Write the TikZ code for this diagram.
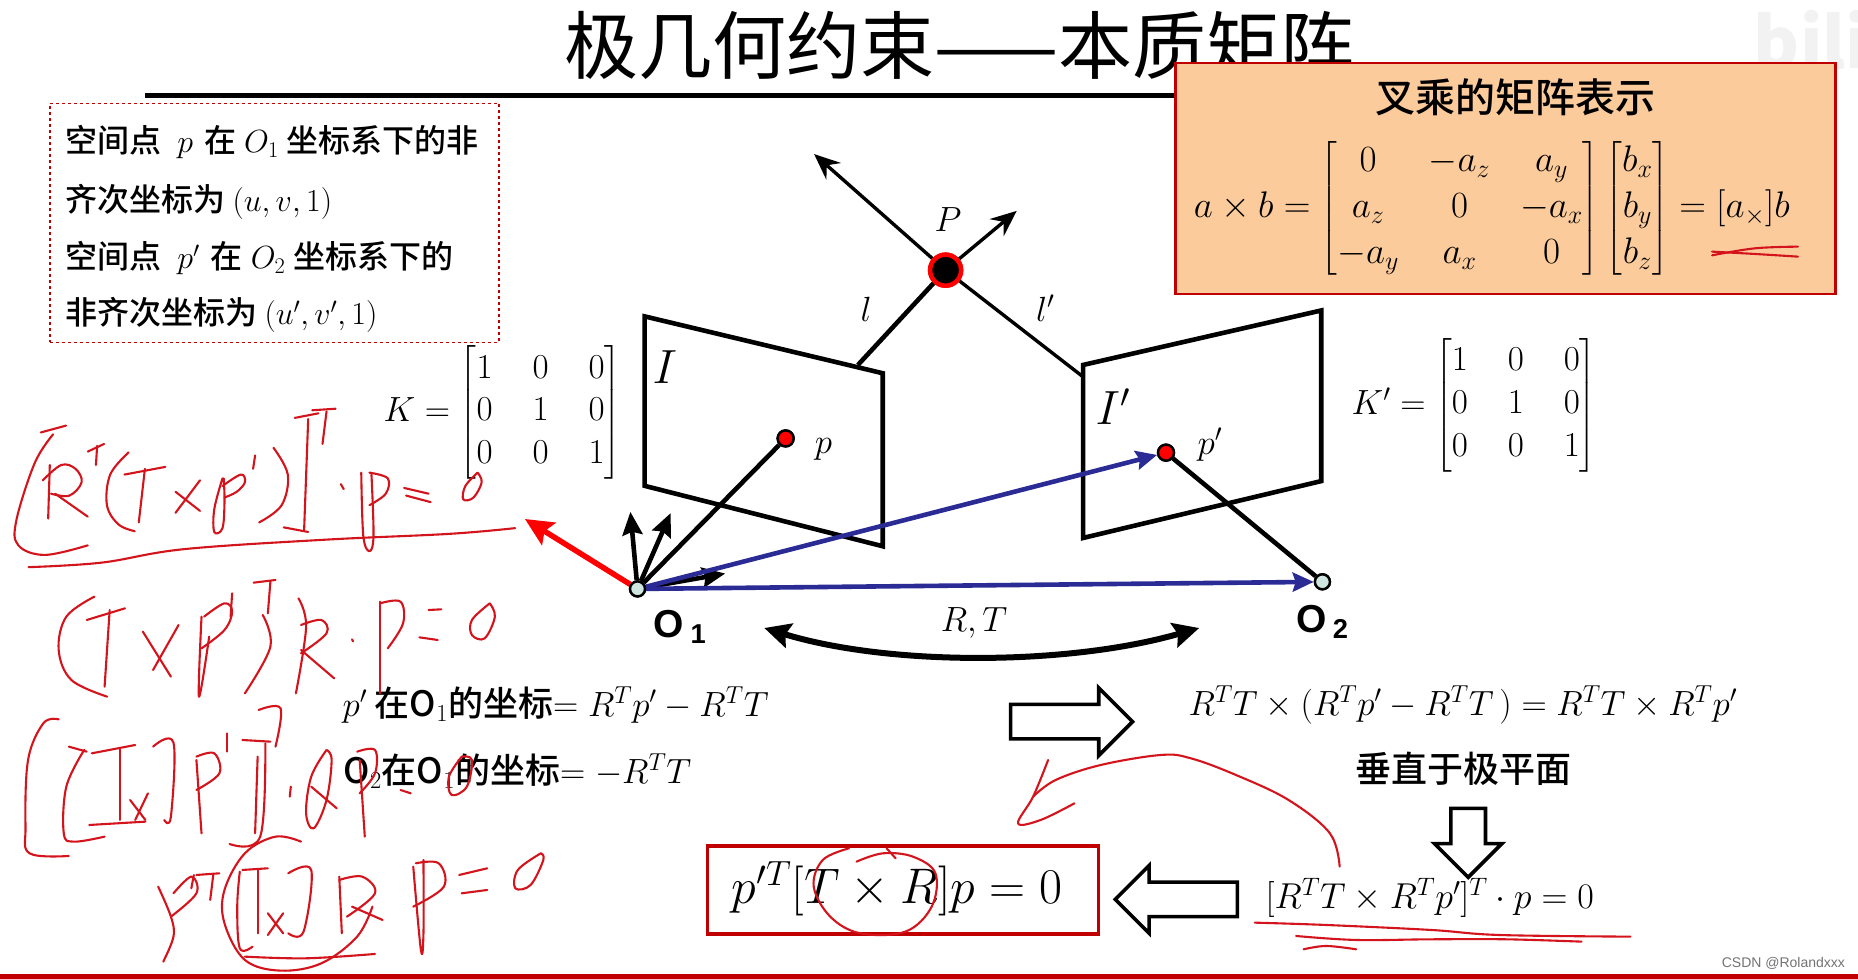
\documentclass[tikz,border=0pt]{standalone}
\usepackage{fix-cm}
\usepackage{amsmath}
\usepackage{fontspec}
\setmainfont{Noto Sans CJK SC}
\newfontfamily\cjkmedium{Noto Sans CJK SC Medium}
\newfontfamily\labelfont{Liberation Sans}
\usepackage{tikz}
\usetikzlibrary{arrows.meta,shapes.arrows}
\definecolor{PenRed}{HTML}{D4141C}
\definecolor{BoxRed}{HTML}{C00000}
\definecolor{BoxOrange}{HTML}{FBCB9B}
\definecolor{RayBlue}{HTML}{2B2B96}
\definecolor{CamTeal}{HTML}{CFE6E0}
\newcommand{\eqsize}{\fontsize{35}{36}\selectfont\cjkmedium}
\newcommand{\penstroke}[1]{\draw[hand] plot[smooth,tension=.6] coordinates {#1};}
\tikzset{
  plane/.style={draw,line width=4.6pt,line join=miter},
  ray/.style={draw,line width=4.6pt},
  thinray/.style={ray,line width=3.4pt,-{Stealth[length=26pt,width=22pt,inset=9pt]}},
  axis/.style={ray,-{Stealth[length=23pt,width=20pt,inset=3pt]}},
  bluearr/.style={draw=RayBlue,line width=4.6pt,-{Stealth[length=21pt,width=19pt,inset=3pt]}},
  redarr/.style={draw=red,line width=5.5pt,-{Stealth[length=28pt,width=26pt,inset=5pt]}},
  cam/.style={circle,draw,line width=2.4pt,fill=CamTeal,minimum size=15pt,inner sep=0pt},
  imgpt/.style={circle,draw,line width=2.4pt,fill=red,minimum size=16pt,inner sep=0pt},
  eqn/.style={font=\eqsize,inner sep=0pt},
  cjktext/.style={font=\fontsize{32}{36}\selectfont\cjkmedium,inner sep=0pt},
  camlabel/.style={font=\fontsize{39}{40}\selectfont\labelfont\bfseries,inner sep=0pt},
  hollow/.style={draw,line width=3.6pt,fill=white,single arrow,minimum width=64pt,
    minimum height=122pt,single arrow head extend=16.5pt,inner ysep=15.5pt,inner xsep=0pt},
  hand/.style={draw=PenRed,line width=2.1pt,line cap=round,line join=round},
  notesA/.style={x=.4082pt,y=-.3827pt},
  notesC/.style={shift={(1150pt,0pt)},x=.4515pt,y=-.3333pt},
  notesD/.style={shift={(0pt,-560pt)},x=.5102pt,y=-.3333pt},
  notesE/.style={shift={(680pt,-660pt)},x=.7513pt,y=-.3333pt}
}
\begin{document}
\begin{tikzpicture}[x=1.18495pt,y=-1.18495pt]
    \useasboundingbox (0,0) rectangle (1568,826);
    \fill[white] (0,0) rectangle (1568,826);
    \fill[BoxRed] (0,822) rectangle (1568,826);

    \node[font=\fontsize{74}{78}\selectfont,inner sep=0pt] (title) at (810,38) {极几何约束——本质矩阵};
    \coordinate (ruleL) at (122,81);
    \coordinate (ruleR) at (1000,81);
    \draw[line width=5pt] (ruleL) -- (ruleR);
    \node[font=\bfseries\fontsize{70}{70}\selectfont,text=black!5,anchor=west,inner sep=0pt] (bili) at (1480,34) {bili};

    \node[draw=BoxRed,fill=BoxOrange,line width=2.5pt,minimum width=660pt,minimum height=231pt,inner sep=0pt] (crossbox) at (1270.5,150.5) {};
    \node[cjktext,font=\fontsize{40}{40}\selectfont\cjkmedium] (crosstitle) at (1279,82) {叉乘的矩阵表示};
    \node[eqn,font=\fontsize{37}{36}\selectfont] (crosseq) at (1259,176) {\setlength{\arraycolsep}{15pt}\renewcommand{\arraystretch}{1.28}$a\times b=\begin{bmatrix}0&-a_z&a_y\\a_z&0&-a_x\\-a_y&a_x&0\end{bmatrix}\setlength{\arraycolsep}{4pt}\begin{bmatrix}b_x\\b_y\\b_z\end{bmatrix}=[a_\times]b$};

    \node[draw=BoxRed,dashed,line width=1.5pt,minimum width=449pt,minimum height=239pt,inner sep=0pt] (notebox) at (231.5,188) {};
    \node[cjktext,anchor=west] (noteA) at (55,120) {空间点\hspace{16pt}$p$\hspace{11pt}在\hspace{8pt}$O_1$\hspace{8pt}坐标系下的非};
    \node[cjktext,anchor=west] (noteB) at (55,170) {齐次坐标为 $(u,v,1)$};
    \node[cjktext,anchor=west] (noteC) at (55,218) {空间点\hspace{16pt}$p'$\hspace{11pt}在\hspace{8pt}$O_2$\hspace{8pt}坐标系下的};
    \node[cjktext,anchor=west] (noteD) at (55,266) {非齐次坐标为 $(u',v',1)$};

    \node[eqn] (Kmat) at (424,348) {\setlength{\arraycolsep}{20pt}\renewcommand{\arraystretch}{1.19}$K=\begin{bmatrix}1&0&0\\0&1&0\\0&0&1\end{bmatrix}$};
    \node[eqn] (Kpmat) at (1244,342) {\setlength{\arraycolsep}{20pt}\renewcommand{\arraystretch}{1.19}$K'=\begin{bmatrix}1&0&0\\0&1&0\\0&0&1\end{bmatrix}$};

    \node[cam] (O1) at (538,497) {};
    \node[cam] (O2) at (1116,491) {};
    \node[imgpt] (p) at (663,370) {};
    \node[imgpt] (pp) at (984,382) {};
    \node[circle,draw=red,line width=4.5pt,fill=black,minimum size=31pt,inner sep=0pt] (P) at (798,228) {};
    \coordinate (lfoot) at (724,308);
    \coordinate (lpfoot) at (914,318);
    \coordinate (ltip) at (858,178);
    \coordinate (lptip) at (687,130);
    \coordinate (axisA) at (532,432);
    \coordinate (axisB) at (566,433);
    \coordinate (axisC) at (612,484);
    \coordinate (redtip) at (443,438);
    \coordinate (rtL) at (645,530);
    \coordinate (rtR) at (1012,530);

    \draw[plane] (544,267) -- (745,315) -- (745,461) -- (544,410) -- cycle;
    \draw[plane] (914,308) -- (1115,262) -- (1115,406) -- (914,454) -- cycle;
    \draw[ray] (lfoot) -- (P);
    \draw[ray,line width=3.4pt] (lpfoot) -- (P);
    \draw[thinray] (P) -- (ltip);
    \draw[thinray] (P) -- (lptip);
    \draw[axis] (O1) -- (axisA);
    \draw[axis] (O1) -- (axisB);
    \draw[axis] (O1) -- (axisC);
    \draw[ray] (O1) -- (p);
    \draw[ray] (O2) -- (pp);
    \draw[redarr] (O1) -- (redtip);
    \draw[bluearr] (O1) -- (pp);
    \draw[bluearr] (O1) -- (O2);
    \draw[line width=6pt,{Stealth[length=26pt,width=25pt,inset=4pt]}-{Stealth[length=26pt,width=25pt,inset=4pt]}] (rtL) .. controls (750,562) and (900,562) .. (rtR);
    \node[cam] at (O1) {};
    \node[cam] at (O2) {};
    \node[imgpt] at (p) {};
    \node[imgpt] at (pp) {};
    \node[circle,draw=red,line width=4.5pt,fill=black,minimum size=31pt,inner sep=0pt] at (P) {};

    \node[eqn] (lablP) at (800,185) {$P$};
    \node[eqn] (labll) at (731,261) {$l$};
    \node[eqn] (lablpr) at (882,260) {$l'$};
    \node[eqn,font=\fontsize{48}{48}\selectfont] (lablI) at (561,310) {$I$};
    \node[eqn,font=\fontsize{48}{48}\selectfont] (lablIp) at (939,343) {$I'$};
    \node[eqn] (lablp) at (695,379) {$p$};
    \node[eqn] (lablpp) at (1021,375) {$p'$};
    \node[camlabel] (lablO1) at (574,529) {O\,$_{\textbf{1}}$};
    \node[camlabel] (lablO2) at (1116,525) {O\,$_{\textbf{2}}$};
    \node[eqn] (lablRT) at (822,526) {$R,T$};

    \node[eqn,anchor=west] (eqA) at (289,595) {$p'$ 在O$_1$的坐标$=R^Tp'-R^TT$};
    \node[eqn,anchor=west] (eqB) at (290,651) {O$_2$在O$_1$的坐标$=-R^TT$};
    \node[eqn,anchor=west] (eqC) at (1003,595) {$R^TT\times(R^Tp'-R^TT\,)=R^TT\times R^Tp'$};
    \node[cjktext,font=\fontsize{36}{36}\selectfont\cjkmedium] (perp) at (1235,649) {垂直于极平面};
    \node[eqn,font=\fontsize{36}{36}\selectfont,anchor=west] (eqD) at (1068,758) {$[R^TT\times R^Tp']^T\cdot p=0$};
    \node[draw=BoxRed,line width=3.6pt,minimum width=391pt,minimum height=88pt,inner sep=0pt] (resultbox) at (762,751) {};
    \node[eqn,font=\fontsize{50}{54}\selectfont] (result) at (757,750) {$p'^T[T\times R]p=0$};

    \node[hollow] (arrR) at (897,609) {};
    \node[hollow,minimum height=69pt] (arrD) at (1239,704) [rotate=-90] {};
    \node[hollow] (arrL) at (1000,759) [rotate=180] {};

    \node[font=\fontsize{14}{14}\selectfont\labelfont,text=black!55,inner sep=0pt] (mark) at (1505,813) {CSDN @Rolandxxx};

    \begin{scope}[notesA]
      \penstroke{(162,1112) (100,1130)}
      \penstroke{(130,1135) (85,1210) (40,1360) (45,1425) (110,1450) (215,1425)}
      \penstroke{(122,1215) (118,1355)}
      \penstroke{(105,1255) (150,1215) (185,1225) (200,1260) (170,1295) (125,1290)}
      \penstroke{(135,1290) (215,1350)}
      \penstroke{(215,1180) (255,1160)}
      \penstroke{(238,1165) (235,1215)}
      \penstroke{(315,1182) (270,1240) (262,1320) (290,1370) (330,1388)}
      \penstroke{(305,1240) (405,1220)}
      \penstroke{(355,1225) (340,1365)}
      \penstroke{(490,1255) (430,1340)}
      \penstroke{(430,1285) (490,1335)}
      \penstroke{(545,1250) (525,1330) (525,1390) (545,1380) (550,1310) (548,1250)}
      \penstroke{(545,1270) (590,1240) (600,1260) (580,1285) (550,1300)}
      \penstroke{(625,1190) (620,1225)}
      \penstroke{(670,1170) (705,1240) (690,1320) (635,1365)}
      \penstroke{(722,1092) (780,1080)}
      \penstroke{(755,1095) (745,1385)}
      \penstroke{(695,1378) (755,1390)}
      \penstroke{(765,1072) (822,1068)}
      \penstroke{(800,1075) (790,1160)}
      \penstroke{(835,1265) (842,1278)}
      \penstroke{(885,1235) (890,1400) (905,1440) (915,1400) (910,1240)}
      \penstroke{(905,1235) (950,1250) (945,1290) (905,1320)}
      \penstroke{(990,1275) (1050,1290)}
      \penstroke{(995,1295) (1055,1312)}
      \penstroke{(1170,1235) (1140,1270) (1135,1305) (1160,1300) (1180,1260) (1170,1235)}
      \penstroke{(70,1482) (250,1470) (450,1435) (800,1410) (1100,1395) (1262,1380)}
    \end{scope}

    \begin{scope}[notesC]
      \penstroke{(1245,766) (1340,745) (1435,740)}
      \penstroke{(1245,755) (1340,762) (1435,770)}
    \end{scope}

    \begin{scope}[notesD]
      \penstroke{(185,110) (130,170) (115,270) (140,360) (210,410)}
      \penstroke{(170,180) (245,145)}
      \penstroke{(215,150) (205,380)}
      \penstroke{(350,195) (300,330)}
      \penstroke{(280,215) (335,350)}
      \penstroke{(395,170) (390,410) (410,230)}
      \penstroke{(400,170) (440,130) (455,155) (440,210) (395,265)}
      \penstroke{(455,100) (452,170)}
      \penstroke{(585,115) (600,200) (580,400)}
      \penstroke{(515,165) (530,260) (480,400)}
      \penstroke{(497,68) (540,60)}
      \penstroke{(530,65) (525,160)}
      \penstroke{(590,195) (630,180) (640,220) (590,280)}
      \penstroke{(590,270) (655,355)}
      \penstroke{(690,238) (692,244)}
      \penstroke{(745,125) (745,400)}
      \penstroke{(745,130) (785,125) (790,190) (760,265)}
      \penstroke{(840,150) (865,148)}
      \penstroke{(822,232) (858,240)}
      \penstroke{(960,130) (925,180) (925,225) (950,235) (970,170) (960,130)}

      \penstroke{(115,478) (85,490) (55,600) (50,800) (58,880) (135,888)}
      \penstroke{(135,560) (170,575)}
      \penstroke{(165,570) (130,680) (125,820) (145,845) (205,830)}
      \penstroke{(180,580) (265,555)}
      \penstroke{(235,565) (235,780)}
      \penstroke{(175,795) (285,785)}
      \penstroke{(255,720) (285,780)}
      \penstroke{(290,700) (265,780)}
      \penstroke{(300,560) (340,548) (335,770) (322,780)}
      \penstroke{(385,600) (395,820)}
      \penstroke{(385,590) (420,580) (430,640) (385,690)}
      \penstroke{(445,520) (445,575)}
      \penstroke{(475,540) (530,545)}
      \penstroke{(520,550) (510,830) (450,852)}
      \penstroke{(505,590) (500,820)}
      \penstroke{(507,450) (550,445) (540,560)}
      \penstroke{(570,680) (568,710)}
      \penstroke{(640,570) (610,650) (600,760) (615,805) (640,720) (650,600) (640,570)}
      \penstroke{(610,680) (660,745)}
      \penstroke{(705,600) (715,830)}
      \penstroke{(700,575) (735,570) (735,640) (705,700)}
      \penstroke{(785,690) (805,700)}
      \penstroke{(905,590) (880,650) (885,705) (915,680) (925,600) (905,590)}

      \penstroke{(310,980) (335,1070) (340,1130) (320,1205)}
      \penstroke{(340,1000) (375,950) (385,1000) (335,1070)}
      \penstroke{(380,945) (375,985)}
      \penstroke{(385,945) (430,940)}
      \penstroke{(418,945) (412,1020)}
      \penstroke{(590,845) (540,830) (480,880) (440,990) (440,1090) (480,1200) (550,1232) (630,1210) (700,1130) (730,1040)}
      \penstroke{(470,935) (465,1040) (470,1165) (495,1160)}
      \penstroke{(475,930) (525,925)}
      \penstroke{(505,930) (505,1120)}
      \penstroke{(525,1060) (555,1120)}
      \penstroke{(555,1060) (525,1125)}
      \penstroke{(565,940) (610,930) (595,1115) (565,1120)}
      \penstroke{(665,950) (670,1120)}
      \penstroke{(665,960) (710,950) (735,1000) (680,1070)}
      \penstroke{(690,1040) (750,1080)}
      \penstroke{(480,1190) (600,1195) (735,1182)}
      \penstroke{(810,920) (825,1170) (830,1120) (830,900)}
      \penstroke{(815,910) (860,910) (870,980) (810,1040)}
      \penstroke{(900,945) (955,925)}
      \penstroke{(905,1000) (955,990)}
      \penstroke{(1060,880) (1015,930) (1010,985) (1040,975) (1065,900) (1060,880)}
    \end{scope}

    \begin{scope}[notesE]
      \penstroke{(878,620) (865,520) (810,420) (740,345) (680,295) (640,285) (560,315) (500,360) (470,410)}
      \penstroke{(490,300) (470,410) (450,490) (480,480) (525,430)}
      \penstroke{(225,565) (190,600) (178,680) (200,770) (240,820) (300,815) (335,740) (340,640) (310,590) (270,580) (235,605)}
      \penstroke{(275,565) (287,595)}
      \penstroke{(765,788) (860,795) (1000,810) (1090,825) (1265,830)}
      \penstroke{(820,828) (900,840) (1000,838) (1100,838) (1200,845)}
      \penstroke{(830,868) (860,858) (900,868)}
    \end{scope}
\end{tikzpicture}
\end{document}
